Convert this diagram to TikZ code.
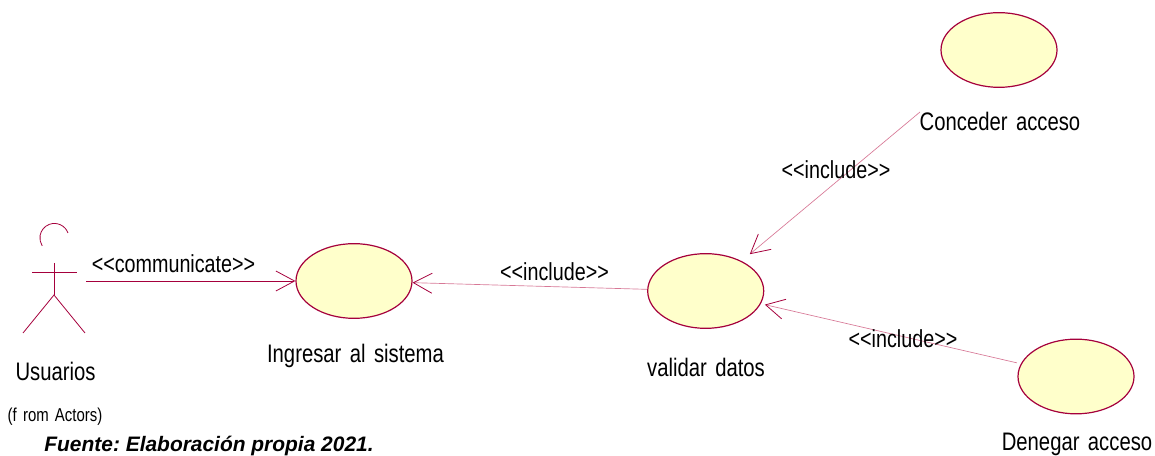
\documentclass[tikz,border=0pt]{standalone}
\usepackage{fontspec}
\usepackage{tikz}
\usetikzlibrary{shapes.geometric,arrows.meta}
\setmainfont{Liberation Sans}
\newfontfamily\umlfont[FakeStretch=0.8,WordSpace=1.5]{Liberation Sans}
\definecolor{umlred}{RGB}{165,0,60}
\definecolor{umlpink}{RGB}{215,120,150}
\definecolor{umlfill}{RGB}{255,255,203}

\begin{document}
\frenchspacing
\begin{tikzpicture}[
    x=0.75pt, y=0.75pt,
    usecase/.style={ellipse, draw=umlred, line width=0.9pt, fill=umlfill, inner sep=0pt,
        minimum width=87pt, minimum height=56pt},
    label/.style={inner sep=0pt, text=black, font=\umlfont\fontsize{19}{22}\selectfont},
    stereo/.style={label, font=\umlfont\fontsize{18.5}{22}\selectfont},
    actor/.style={draw=umlred, line width=0.6pt},
    link/.style={draw=umlpink, line width=0.5pt,
        -{Straight Barb[length=14pt, width=15pt, color=umlred, line width=0.6pt]}},
]
\useasboundingbox (0,0) rectangle (1155,456);

\node (Ingresar) [usecase] at (354,175) {};
\node (Validar) [usecase] at (705.7,165) {};
\node (Conceder) [usecase] at (999,406) {};
\node (Denegar) [usecase] at (1076,79.5) {};

\node (LIngresar) [label] at (355.5,100) {Ingresar al sistema};
\node (LValidar) [label] at (706,89) {validar datos};
\node (LConceder) [label] at (1000,334.5) {Conceder acceso};
\node (LDenegar) [label] at (1077,12) {Denegar acceso};
\node (LUsuarios) [label] at (55.5,85) {Usuarios};
\node (LActors) [label, font=\umlfont\fontsize{14}{16}\selectfont] at (55,39) {(f rom Actors)};
\node (LFuente) [inner sep=0pt, font=\fontsize{15.7}{18}\selectfont\bfseries\itshape] at (209,10.5) {Fuente: Elaboración propia 2021.};

\draw[actor] (68,223) arc[start angle=20, end angle=213, radius=14.5];
\draw[actor] (54,193) -- (54,161);
\draw[actor] (32,184) -- (77,184);
\draw[actor] (23,123) -- (54,161) -- (85,123);

\coordinate (UsuarioEnd) at (86,175);
\coordinate (ConcederEnd) at (920,344);

\draw[link, draw=umlred, line width=0.6pt] (UsuarioEnd) -- (Ingresar);
\draw[link] (Validar) -- (Ingresar);
\draw[link, shorten >=8pt] (ConcederEnd) -- (Validar);
\draw[link, shorten >=3pt, shorten <=3pt] (Denegar) -- (Validar);

\node (SCommunicate) [stereo] at (173.5,192) {<{}<communicate>{}>};
\node (SValidar) [stereo] at (554.5,184) {<{}<include>{}>};
\node (SConceder) [stereo] at (836,286) {<{}<include>{}>};
\node (SDenegar) [stereo] at (903,117) {<{}<include>{}>};

\end{tikzpicture}
\end{document}
